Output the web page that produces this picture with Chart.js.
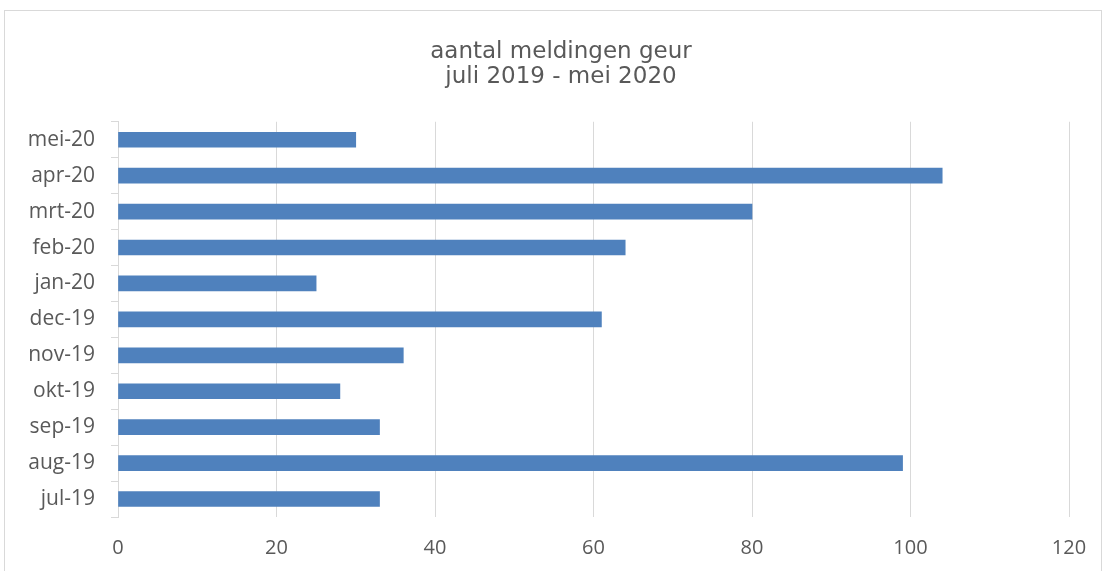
<!DOCTYPE html>
<html>
<head>
<meta charset="utf-8">
<script src="https://cdn.jsdelivr.net/npm/chart.js@4/dist/chart.umd.min.js"></script>
<style>
  html, body { margin: 0; padding: 0; background: #ffffff; overflow: hidden; }
  #wrap { position: absolute; left: 4px; top: 10px; width: 1096px; height: 570px; border: 1px solid #d9d9d9; background: #fff; }
</style>
</head>
<body>
<div id="wrap"><canvas id="c"></canvas></div>
<script>
const categories = ['jul-19', 'aug-19', 'sep-19', 'okt-19', 'nov-19', 'dec-19', 'jan-20', 'feb-20', 'mrt-20', 'apr-20', 'mei-20'];
const meldingen = [33, 99, 33, 28, 36, 61, 25, 64, 80, 104, 30];
const titleLines = ['aantal meldingen geur', 'juli 2019 - mei 2020'];
const xTicks = [0, 20, 40, 60, 80, 100, 120];

const textColor = '#595959';
const gridColor = '#d9d9d9';

const titleShift = {
  id: 'titleShift',
  afterLayout(chart) {
    if (chart.titleBlock) { chart.titleBlock.left = 48; }
  }
};

new Chart(document.getElementById('c'), {
  type: 'bar',
  data: {
    labels: categories,
    datasets: [{
      data: meldingen,
      backgroundColor: '#4f81bd',
      borderWidth: 0,
      barThickness: 15
    }]
  },
  plugins: [titleShift],
  options: {
    indexAxis: 'y',
    responsive: true,
    maintainAspectRatio: false,
    animation: false,
    layout: { padding: { left: 0, right: 32, top: 0, bottom: 0 } },
    plugins: {
      legend: { display: false },
      tooltip: { enabled: false },
      title: {
        display: true,
        text: titleLines,
        color: textColor,
        font: { family: '"DejaVu Sans", Verdana, sans-serif', size: 23, weight: 'normal', lineHeight: 1.06 },
        padding: { top: 29, bottom: 33 }
      }
    },
    scales: {
      x: {
        min: 0,
        max: 120,
        afterBuildTicks: (scale) => { scale.ticks = xTicks.map(v => ({ value: v })); },
        afterFit: (scale) => { scale.height = 64; scale.paddingRight = 0; scale.paddingLeft = 0; },
        grid: { color: gridColor, lineWidth: 1, drawTicks: false },
        border: { display: false },
        ticks: {
          color: textColor,
          padding: 19,
          font: { family: '"Open Sans", sans-serif', size: 20 }
        }
      },
      y: {
        reverse: true,
        afterFit: (scale) => { scale.width = 113; },
        grid: { color: gridColor, drawOnChartArea: false, drawTicks: true, tickLength: 7, offset: true },
        border: { display: true, color: gridColor },
        ticks: {
          color: textColor,
          padding: 16,
          font: { family: '"Open Sans", sans-serif', size: 21 }
        }
      }
    }
  }
});
</script>
</body>
</html>
